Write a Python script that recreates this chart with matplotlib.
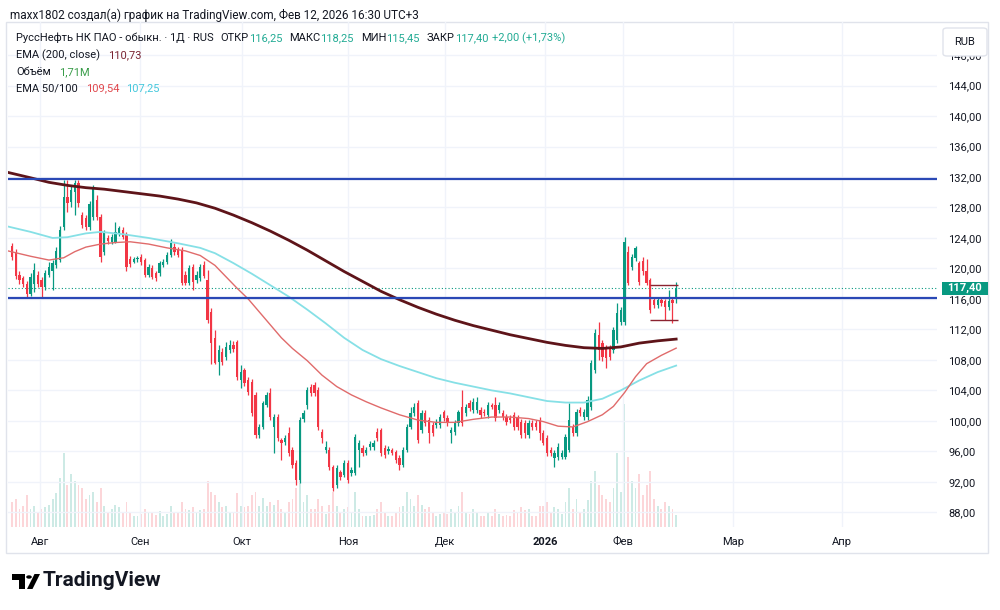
import matplotlib
matplotlib.use("Agg")
import matplotlib.pyplot as plt
from matplotlib.patches import Rectangle, FancyBboxPatch, Circle, Polygon
from matplotlib.transforms import blended_transform_factory
import numpy as np

plt.rcParams["font.family"] = ["Roboto", "DejaVu Sans"]

# Daily candles, RNFT, late Jul 2025 .. Feb 12 2026
opens = [
    123.0, 122.1, 119.2, 118.7, 118.0, 116.7, 118.0, 119.2, 118.5, 117.6,
    119.2, 119.6, 120.4, 121.1, 125.4, 129.4, 128.7, 130.0, 131.2, 127.0,
    126.6, 125.4, 126.8, 129.0, 126.8, 122.1, 124.0, 123.5, 123.5, 124.7,
    125.0, 124.4, 121.3, 120.9, 121.2, 121.5, 121.1, 119.2, 120.1, 119.4,
    119.4, 120.5, 120.9, 121.8, 122.8, 122.4, 122.4, 119.2, 118.1, 120.2,
    118.5, 118.7, 120.5, 118.5, 114.3, 110.9, 107.7, 109.0, 108.4, 109.3,
    110.0, 110.3, 105.4, 106.7, 105.4, 105.1, 103.4, 98.1, 99.2, 102.1,
    103.7, 99.2, 100.5, 97.5, 97.2, 98.4, 96.2, 94.5, 92.2, 100.3,
    102.1, 104.5, 104.7, 104.1, 98.5, 96.2, 96.2, 93.9, 91.6, 93.3,
    92.9, 94.5, 93.2, 93.2, 96.2, 96.4, 95.8, 96.6, 96.6, 98.5,
    98.8, 96.4, 96.0, 96.2, 95.9, 95.1, 94.2, 96.2, 99.2, 101.0,
    102.3, 98.8, 101.0, 100.1, 99.5, 99.5, 99.5, 101.2, 100.4, 98.4,
    98.5, 99.7, 101.8, 101.0, 102.3, 101.4, 101.4, 101.4, 101.2, 100.8,
    102.1, 102.1, 101.4, 101.0, 100.5, 100.4, 100.8, 100.4, 99.9, 99.7,
    98.1, 99.7, 99.7, 100.1, 98.4, 97.8, 96.2, 95.1, 95.3, 95.3,
    95.3, 96.2, 99.2, 98.4, 101.4, 100.5, 100.5, 101.8, 106.7, 111.3,
    110.2, 109.7, 109.7, 109.3, 110.6, 113.0, 113.0, 122.2, 120.2, 121.4,
    120.7, 121.0, 119.6, 118.5, 115.9, 115.2, 115.8, 115.7, 114.9, 115.9,
    116.25,
]
highs = [
    123.3, 122.5, 119.6, 119.0, 118.3, 119.4, 120.7, 119.6, 118.9, 119.8,
    120.8, 121.1, 122.8, 125.6, 131.6, 131.6, 131.0, 131.6, 131.6, 127.4,
    127.0, 128.9, 130.9, 129.6, 127.2, 125.1, 124.4, 124.5, 126.1, 125.6,
    125.4, 124.8, 121.6, 121.5, 121.6, 121.9, 121.4, 120.6, 120.5, 119.7,
    121.0, 121.3, 122.2, 123.8, 123.4, 122.8, 122.8, 119.6, 120.5, 120.6,
    119.6, 120.6, 121.0, 119.8, 114.8, 111.9, 110.0, 109.6, 110.4, 110.6,
    110.5, 110.6, 107.3, 107.0, 105.8, 105.5, 103.8, 99.6, 102.6, 103.8,
    104.3, 100.9, 100.9, 97.8, 98.1, 99.2, 96.6, 94.9, 100.5, 101.4,
    104.5, 104.9, 105.1, 104.5, 98.9, 97.4, 96.6, 94.2, 94.2, 93.6,
    94.9, 94.9, 94.0, 98.3, 97.5, 96.8, 96.6, 97.3, 97.5, 99.1,
    99.1, 96.8, 96.7, 96.5, 96.2, 95.5, 96.6, 99.6, 101.8, 102.3,
    102.8, 101.4, 101.4, 100.5, 99.9, 100.3, 100.9, 101.4, 100.8, 99.2,
    100.1, 101.4, 104.1, 102.2, 102.7, 103.0, 103.1, 101.8, 101.5, 102.5,
    102.4, 103.1, 102.5, 101.4, 100.9, 100.8, 101.2, 100.8, 100.3, 100.1,
    100.1, 100.1, 100.1, 100.5, 98.8, 98.1, 96.6, 96.2, 97.1, 96.2,
    98.3, 102.3, 99.6, 101.6, 101.8, 101.6, 103.2, 108.0, 112.0, 113.0,
    110.6, 110.0, 110.0, 112.3, 115.5, 115.0, 124.1, 123.0, 121.9, 123.0,
    121.0, 121.5, 121.3, 118.8, 116.3, 116.3, 116.1, 116.0, 117.2, 116.3,
    118.25,
]
lows = [
    121.1, 118.6, 118.0, 117.5, 116.2, 116.4, 116.9, 117.6, 116.2, 117.2,
    118.9, 117.2, 120.0, 120.8, 125.0, 127.4, 128.0, 127.0, 128.0, 125.3,
    125.0, 125.0, 126.4, 126.4, 120.9, 121.8, 123.2, 123.2, 123.3, 124.3,
    123.8, 119.6, 120.2, 120.7, 120.9, 120.5, 118.9, 118.9, 118.6, 118.4,
    119.0, 120.2, 120.6, 121.5, 121.8, 121.5, 117.8, 117.8, 117.8, 117.2,
    118.1, 118.4, 118.7, 112.8, 107.4, 107.4, 106.0, 107.3, 108.0, 108.9,
    109.0, 105.4, 104.3, 104.6, 103.4, 100.6, 97.8, 97.7, 98.9, 101.8,
    100.1, 95.8, 97.4, 94.9, 96.8, 95.4, 93.8, 91.6, 91.8, 99.9,
    101.6, 103.3, 103.3, 98.8, 97.1, 95.8, 93.5, 90.8, 91.2, 92.2,
    92.6, 91.8, 92.8, 92.9, 93.9, 95.4, 95.5, 96.2, 96.2, 97.4,
    95.4, 95.1, 95.7, 95.5, 94.5, 93.6, 93.9, 95.9, 98.9, 100.6,
    97.1, 98.4, 99.3, 97.1, 98.0, 99.1, 99.1, 100.0, 99.3, 97.1,
    98.1, 99.3, 99.3, 100.6, 101.3, 101.0, 101.0, 100.4, 100.6, 100.4,
    101.5, 100.0, 101.0, 100.1, 99.5, 99.7, 98.8, 98.8, 97.8, 97.8,
    97.8, 98.8, 98.8, 97.5, 96.8, 95.4, 95.4, 94.0, 94.9, 95.0,
    95.0, 95.9, 98.0, 98.0, 100.6, 100.1, 100.1, 101.4, 106.3, 108.0,
    107.9, 107.0, 108.0, 108.9, 110.2, 112.6, 112.6, 117.8, 119.8, 121.0,
    117.8, 119.2, 117.8, 114.2, 114.8, 114.8, 115.1, 113.2, 114.5, 112.9,
    115.45,
]
closes = [
    121.5, 119.0, 118.5, 117.9, 116.6, 118.9, 119.8, 118.0, 117.6, 119.4,
    120.2, 120.7, 122.3, 125.1, 129.4, 128.6, 130.3, 131.2, 128.6, 125.7,
    125.4, 128.5, 130.6, 126.8, 121.5, 124.8, 123.6, 124.1, 124.8, 125.3,
    124.1, 120.2, 120.6, 121.2, 121.3, 120.9, 119.2, 120.2, 118.9, 118.7,
    120.7, 120.9, 121.8, 123.3, 122.1, 121.8, 118.1, 118.1, 120.1, 118.2,
    119.2, 120.2, 119.0, 113.2, 110.2, 107.6, 109.3, 107.7, 109.7, 110.0,
    109.4, 105.8, 106.4, 105.0, 103.8, 101.0, 98.2, 99.2, 102.3, 103.4,
    100.5, 100.5, 97.8, 97.1, 97.7, 95.8, 94.2, 92.2, 100.1, 101.0,
    104.1, 103.7, 103.7, 99.2, 97.8, 96.6, 93.9, 91.2, 93.8, 92.6,
    94.5, 92.2, 93.6, 97.9, 97.1, 95.8, 96.2, 96.9, 97.1, 97.8,
    95.8, 95.5, 96.3, 95.8, 94.9, 94.2, 96.2, 99.2, 101.0, 101.8,
    97.5, 101.0, 99.7, 98.4, 98.4, 99.9, 100.5, 100.4, 99.7, 98.8,
    99.7, 101.2, 99.7, 101.8, 101.7, 102.5, 102.5, 100.8, 101.0, 102.1,
    101.8, 100.4, 102.1, 100.5, 99.9, 100.1, 99.2, 99.2, 98.2, 98.4,
    99.7, 99.2, 99.2, 98.4, 97.1, 95.8, 95.8, 95.8, 96.6, 95.8,
    97.9, 100.1, 98.4, 101.2, 101.0, 101.2, 102.8, 107.6, 111.5, 109.3,
    108.4, 108.2, 108.4, 111.9, 114.1, 114.6, 123.5, 118.1, 121.5, 122.7,
    118.2, 119.6, 118.1, 114.6, 115.2, 115.9, 115.5, 114.9, 115.7, 115.4,
    117.40,
]
# volume, millions of shares
volumes = [
    3.5, 4.0, 2.5, 3.0, 4.5, 2.5, 3.0, 2.0, 2.5, 2.8,
    3.2, 4.0, 4.8, 7.0, 10.5, 6.0, 7.5, 6.5, 6.0, 5.5,
    4.0, 4.5, 5.0, 3.5, 5.5, 3.0, 2.0, 2.5, 3.2, 2.8,
    2.0, 3.5, 2.0, 1.5, 1.6, 1.8, 2.5, 2.0, 2.2, 1.7,
    2.3, 1.6, 1.8, 3.0, 2.2, 2.0, 3.5, 2.6, 2.4, 2.8,
    2.0, 2.4, 2.5, 6.5, 5.0, 4.5, 3.5, 2.8, 3.0, 2.2,
    2.0, 4.8, 3.0, 2.8, 3.0, 4.5, 5.0, 3.0, 4.2, 3.0,
    3.6, 3.2, 3.8, 2.5, 2.2, 3.5, 4.0, 5.5, 7.0, 3.5,
    4.5, 2.5, 2.5, 4.0, 3.0, 1.8, 3.2, 5.0, 3.0, 2.0,
    2.5, 2.8, 2.0, 5.0, 2.5, 1.6, 1.5, 1.5, 1.7, 2.5,
    3.5, 2.0, 1.5, 1.5, 2.2, 2.8, 3.0, 5.0, 4.0, 3.0,
    4.5, 3.2, 2.5, 2.8, 2.0, 1.6, 1.8, 2.0, 1.8, 2.5,
    2.2, 3.0, 5.0, 2.0, 1.8, 2.5, 2.2, 1.6, 1.5, 2.2,
    1.5, 2.6, 1.8, 1.6, 1.7, 1.5, 2.4, 2.0, 2.8, 2.4,
    2.5, 1.6, 1.5, 3.0, 3.0, 3.5, 2.0, 2.8, 2.5, 1.8,
    3.5, 5.5, 2.5, 4.0, 2.0, 2.5, 3.8, 6.5, 8.0, 6.0,
    4.5, 4.0, 3.5, 5.5, 10.5, 5.0, 17.5, 10.0, 6.5, 5.5,
    7.5, 4.5, 6.0, 8.0, 4.0, 3.0, 2.5, 3.5, 3.0, 2.5,
    1.71,
]

# EMA lines sampled along the drawn curves (bar index, value)
ema200_x = [-1.1, 5, 10, 15, 20, 25, 30, 35, 40, 45, 50, 55, 60, 65, 70, 75, 80, 85,
            90, 95, 100, 105, 110, 115, 120, 125, 130, 135, 140, 145, 150, 155, 160,
            165, 170, 175, 180]
ema200_y = [132.6, 131.9, 131.3, 130.9, 130.6, 130.4, 130.1, 129.8, 129.5, 129.1,
            128.6, 127.9, 127.0, 126.0, 124.9, 123.7, 122.4, 121.0, 119.6, 118.3,
            117.0, 115.9, 114.9, 114.0, 113.2, 112.5, 111.9, 111.3, 110.8, 110.3,
            109.9, 109.6, 109.5, 109.7, 110.2, 110.5, 110.73]
ema100_x = [-1.1, 5, 11, 15, 20, 24, 30, 37, 45, 51, 55, 60, 65, 70, 75, 80, 85, 90,
            95, 100, 105, 110, 115, 120, 125, 130, 135, 140, 145, 150, 155, 160, 165,
            170, 175, 180]
ema100_y = [125.5, 124.8, 124.0, 124.1, 124.6, 124.8, 124.5, 124.0, 123.3, 122.7,
            122.0, 120.7, 119.3, 117.8, 116.3, 114.6, 112.8, 110.9, 109.3, 108.1,
            107.2, 106.4, 105.6, 105.0, 104.5, 104.0, 103.6, 103.1, 102.6, 102.4,
            102.4, 102.9, 104.0, 105.3, 106.4, 107.25]
ema50_x = [-1.1, 5, 10, 14, 17, 20, 24, 28, 32, 37, 42, 47, 51, 55, 58, 61, 64, 67,
           70, 73, 76, 80, 84, 88, 92, 96, 100, 105, 110, 115, 120, 125, 130, 135,
           140, 144, 148, 152, 156, 160, 163, 166, 169, 172, 176, 180]
ema50_y = [122.3, 121.6, 121.1, 121.4, 122.2, 122.8, 123.2, 123.4, 123.5, 123.2,
           122.7, 122.3, 121.7, 120.4, 118.9, 117.4, 116.0, 114.3, 112.6, 110.9,
           109.5, 107.9, 106.0, 104.5, 103.4, 102.5, 101.7, 100.8, 100.1, 99.8,
           99.8, 100.2, 100.5, 100.5, 100.3, 99.9, 99.3, 99.2, 99.9, 100.8, 101.9,
           103.7, 105.8, 107.5, 108.6, 109.54]

month_pos = [7.6, 34.7, 62.3, 91.1, 117.3, 144.4, 165.6, 195.4, 224.9]
month_labels = ["Авг", "Сен", "Окт", "Ноя", "Дек", "2026", "Фев", "Мар", "Апр"]
price_ticks = list(range(88, 149, 4))

level_top = 131.7
level_bottom = 116.1
range_hi, range_lo = 117.8, 113.2
range_from, range_to = 173.0, 180.6

UP, DOWN = "#089981", "#f23645"
DARK = "#131722"

W, H = 1000, 610
fig = plt.figure(figsize=(W / 100, H / 100), dpi=100, facecolor="white")


def fx(px):
    return px / W


def fy(py):
    return 1 - py / H


def fmt(v):
    return f"{v:.2f}".replace(".", ",")


ax = fig.add_axes([fx(8), fy(527), fx(937) - fx(8), fy(22) - fy(527)])
vax = ax.twinx()
ax.set_zorder(vax.get_zorder() + 1)
ax.patch.set_visible(False)

idx = np.arange(len(closes))
o, h, l, c = map(np.array, (opens, highs, lows, closes))
up = c >= o
col = np.where(up, UP, DOWN)

# volume pane (own scale, bottom of chart)
vax.bar(idx, volumes, width=0.5, color=col, alpha=0.2, linewidth=0)
vax.set_ylim(0, 72)
vax.set_yticks([])
for s in vax.spines.values():
    s.set_visible(False)

# candles
ax.vlines(idx, l, h, colors=col, lw=0.9, zorder=3)
ax.bar(idx, np.maximum(np.abs(c - o), 0.15), bottom=np.minimum(o, c),
       width=0.62, color=col, linewidth=0, zorder=4)

# EMAs
ax.plot(ema100_x, ema100_y, color="#86e0e6", lw=1.3, zorder=5)
ax.plot(ema50_x, ema50_y, color="#e06b6b", lw=1.0, zorder=5)
ax.plot(ema200_x, ema200_y, color="#5e1419", lw=2.0, zorder=6,
        solid_joinstyle="round")

# drawn levels
ax.axhline(level_top, color="#2a48b5", lw=1.6, zorder=6)
ax.axhline(level_bottom, color="#2a48b5", lw=1.6, zorder=6)
ax.hlines([range_hi, range_lo], range_from, range_to, color="#8b2330", lw=1.0, zorder=6)
ax.axhline(closes[-1], color=UP, lw=0.8, ls=(0, (1, 2)), zorder=2)

ax.set_xlim(-1.1, 250.7)
ax.set_ylim(86.07, 152.34)
ax.set_xticks(month_pos)
ax.set_xticklabels(month_labels)
for t in ax.get_xticklabels():
    if t.get_text() == "2026":
        t.set_fontweight("bold")
ax.yaxis.tick_right()
ax.set_yticks(price_ticks)
ax.set_yticklabels([fmt(v) for v in price_ticks])
ax.tick_params(axis="x", length=0, pad=7, labelsize=8, labelcolor=DARK)
ax.tick_params(axis="y", length=0, pad=8, labelsize=8, labelcolor=DARK)
ax.grid(True, color="#f0f3fa", lw=1.0)
ax.set_axisbelow(True)
for s in ax.spines.values():
    s.set_visible(False)

# last price label on the scale
tr = blended_transform_factory(fig.transFigure, ax.transData)
fig.add_artist(Rectangle((fx(942), closes[-1] - 0.87), fx(988) - fx(942), 1.74,
                         transform=tr, fc=UP, ec="none", zorder=5))
fig.text(fx(965), closes[-1], fmt(closes[-1]), transform=tr, color="white",
         fontsize=8, fontweight="bold", ha="center", va="center", zorder=6)

# RUB button
fig.add_artist(FancyBboxPatch((fx(943), fy(56)), fx(987) - fx(943), fy(28) - fy(56),
                              boxstyle="round,pad=0,rounding_size=0.004",
                              fc="white", ec="#e0e3eb", lw=1, zorder=5))
fig.text(fx(965), fy(42), "RUB", fontsize=8, color=DARK, ha="center", va="center", zorder=6)

# chart panel border
fig.add_artist(Rectangle((fx(6), fy(553)), fx(988) - fx(6), fy(22) - fy(553),
                         fill=False, ec="#e0e3eb", lw=1, zorder=0))

# header
fig.text(fx(10), fy(15), "maxx1802 создал(а) график на TradingView.com, Фев 12, 2026 16:30 UTC+3",
         fontsize=8.5, color=DARK, va="center")

renderer = fig.canvas.get_renderer()


def text_row(parts, x, y, size=8):
    for s, color, gap in parts:
        t = fig.text(fx(x), fy(y), s, color=color, fontsize=size, va="center", ha="left")
        x += t.get_window_extent(renderer=renderer).width + gap


GREEN = "#22ab94"
chg = closes[-1] - closes[-2]
text_row([("РуссНефть НК ПАО - обыкн. · 1Д · RUS", DARK, 7),
          ("ОТКР", DARK, 0), (fmt(opens[-1]), GREEN, 7),
          ("МАКС", DARK, 0), (fmt(highs[-1]), GREEN, 7),
          ("МИН", DARK, 0), (fmt(lows[-1]), GREEN, 7),
          ("ЗАКР", DARK, 0), (fmt(closes[-1]), GREEN, 4),
          (f"+{fmt(chg)} (+{fmt(chg / closes[-2] * 100)}%)", GREEN, 0)], 16, 38)
text_row([("EMA (200, close)", DARK, 8), (fmt(ema200_y[-1]), "#7a2432", 0)], 16, 55)
text_row([("Объём", DARK, 8), (fmt(volumes[-1]) + "M", "#3a9d4a", 0)], 16, 72)
text_row([("EMA 50/100", DARK, 8), (fmt(ema50_y[-1]), "#e0474c", 7),
          (fmt(ema100_y[-1]), "#45c8dc", 0)], 16, 88)

# TradingView logo
fig.add_artist(Rectangle((fx(12), fy(580)), fx(25) - fx(12), fy(574) - fy(580), fc="black", ec="none"))
fig.add_artist(Rectangle((fx(19), fy(589)), fx(25) - fx(19), fy(574) - fy(589), fc="black", ec="none"))
fig.add_artist(Circle((fx(29), fy(577)), 2.8 / W, fc="black", ec="none"))
fig.add_artist(Polygon([(fx(27), fy(589)), (fx(32.5), fy(589)), (fx(40), fy(574)), (fx(34.5), fy(574))],
                       closed=True, fc="black", ec="none"))
fig.text(fx(43), fy(581), "TradingView", fontsize=15, fontweight="bold", color=DARK, va="center")

fig.savefig("out.png", dpi=100, facecolor="white")
